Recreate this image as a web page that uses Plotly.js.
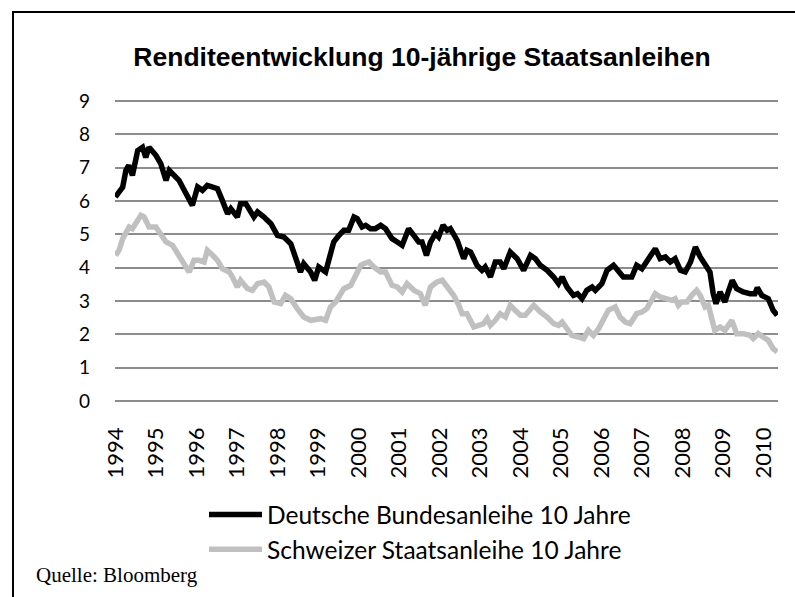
<!DOCTYPE html>
<html>
<head>
<meta charset="utf-8">
<script src="https://cdn.plot.ly/plotly-3.0.1.min.js"></script>
<style>
html,body{margin:0;padding:0;background:#fff;}
#chart{width:795px;height:597px;}
</style>
</head>
<body>
<div id="chart"></div>
<script>
var chartTitle = "Renditeentwicklung 10-jährige Staatsanleihen";
var sourceNote = "Quelle: Bloomberg";
var seriesNames = ["Deutsche Bundesanleihe 10 Jahre", "Schweizer Staatsanleihe 10 Jahre"];

var tickYears = [1994,1995,1996,1997,1998,1999,2000,2001,2002,2003,2004,2005,2006,2007,2008,2009,2010];
var tickLabels = ["1994","1995","1996","1997","1998","1999","2000","2001","2002","2003","2004","2005","2006","2007","2008","2009","2010"];
var yTicks = [0,1,2,3,4,5,6,7,8,9];

var deYears = [1994.00,1994.18,1994.26,1994.33,1994.42,1994.55,1994.67,1994.75,1994.83,1995.00,1995.12,1995.25,1995.33,1995.57,1995.70,1995.82,1995.90,1996.03,1996.15,1996.27,1996.40,1996.52,1996.64,1996.77,1996.85,1997.01,1997.09,1997.22,1997.42,1997.51,1997.67,1997.84,1998.00,1998.16,1998.33,1998.45,1998.57,1998.65,1998.82,1998.92,1999.02,1999.19,1999.27,1999.39,1999.52,1999.64,1999.76,1999.89,1999.97,2000.09,2000.18,2000.30,2000.42,2000.55,2000.67,2000.83,2000.96,2001.08,2001.24,2001.37,2001.49,2001.57,2001.68,2001.78,2001.90,2001.98,2002.09,2002.19,2002.27,2002.44,2002.60,2002.68,2002.77,2002.93,2003.05,2003.13,2003.26,2003.38,2003.50,2003.59,2003.75,2003.92,2004.08,2004.25,2004.37,2004.49,2004.66,2004.82,2004.94,2005.03,2005.15,2005.31,2005.41,2005.52,2005.64,2005.77,2005.85,2006.01,2006.14,2006.30,2006.42,2006.54,2006.75,2006.87,2007.00,2007.12,2007.21,2007.33,2007.45,2007.58,2007.70,2007.82,2007.95,2008.07,2008.20,2008.32,2008.44,2008.60,2008.68,2008.76,2008.83,2008.93,2009.05,2009.13,2009.23,2009.34,2009.50,2009.67,2009.79,2009.85,2009.96,2010.12,2010.24,2010.34];
var deYield = [6.12,6.42,6.92,7.07,6.77,7.51,7.61,7.31,7.61,7.37,7.12,6.62,6.92,6.62,6.32,6.02,5.87,6.42,6.32,6.47,6.42,6.37,6.02,5.62,5.77,5.52,5.92,5.92,5.52,5.67,5.52,5.32,4.97,4.92,4.72,4.32,3.87,4.12,3.87,3.62,4.02,3.87,4.22,4.77,4.97,5.12,5.12,5.52,5.47,5.22,5.27,5.17,5.17,5.27,5.17,4.87,4.77,4.67,5.17,4.97,4.77,4.77,4.37,4.77,5.02,4.92,5.27,5.12,5.17,4.82,4.27,4.52,4.47,4.07,3.92,4.02,3.72,4.17,4.17,3.97,4.47,4.27,3.92,4.37,4.27,4.07,3.92,3.72,3.52,3.72,3.42,3.17,3.22,3.07,3.32,3.42,3.32,3.52,3.92,4.07,3.87,3.72,3.72,4.07,3.97,4.17,4.32,4.57,4.27,4.32,4.17,4.27,3.92,3.87,4.17,4.62,4.32,4.02,3.87,3.22,2.92,3.27,2.97,3.27,3.62,3.37,3.27,3.22,3.22,3.40,3.17,3.07,2.72,2.57];

var chYears = [1994.00,1994.09,1994.18,1994.26,1994.34,1994.42,1994.51,1994.63,1994.71,1994.83,1995.00,1995.12,1995.25,1995.41,1995.57,1995.70,1995.82,1995.94,1996.07,1996.19,1996.27,1996.40,1996.52,1996.64,1996.81,1996.89,1997.01,1997.09,1997.26,1997.38,1997.51,1997.67,1997.79,1997.92,1998.08,1998.20,1998.33,1998.49,1998.65,1998.82,1999.07,1999.19,1999.31,1999.44,1999.64,1999.81,1999.93,2000.06,2000.13,2000.26,2000.38,2000.55,2000.67,2000.83,2000.96,2001.08,2001.20,2001.37,2001.53,2001.65,2001.78,2001.94,2002.07,2002.19,2002.35,2002.48,2002.56,2002.68,2002.85,2002.97,2003.09,2003.18,2003.26,2003.38,2003.50,2003.63,2003.75,2003.87,2004.00,2004.12,2004.33,2004.49,2004.66,2004.82,2004.94,2005.03,2005.15,2005.27,2005.43,2005.56,2005.68,2005.80,2005.93,2006.05,2006.17,2006.34,2006.46,2006.59,2006.71,2006.87,2007.00,2007.12,2007.21,2007.33,2007.45,2007.61,2007.74,2007.82,2007.90,2007.98,2008.11,2008.23,2008.35,2008.44,2008.56,2008.64,2008.72,2008.80,2008.93,2009.05,2009.22,2009.34,2009.50,2009.67,2009.75,2009.87,2009.99,2010.12,2010.24,2010.34];
var chYield = [4.37,4.52,4.87,5.02,5.22,5.17,5.37,5.57,5.52,5.22,5.22,5.02,4.77,4.67,4.37,4.17,3.87,4.22,4.22,4.17,4.52,4.37,4.22,3.97,3.87,3.72,3.42,3.62,3.37,3.32,3.52,3.57,3.42,2.97,2.92,3.17,3.07,2.77,2.52,2.42,2.47,2.42,2.82,2.97,3.37,3.47,3.77,4.07,4.12,4.17,4.02,3.87,3.87,3.47,3.42,3.27,3.52,3.32,3.22,2.87,3.42,3.57,3.62,3.42,3.17,2.87,2.62,2.62,2.22,2.27,2.32,2.47,2.27,2.42,2.62,2.52,2.87,2.72,2.57,2.57,2.87,2.67,2.52,2.32,2.27,2.37,2.17,1.97,1.92,1.87,2.12,1.97,2.17,2.42,2.72,2.82,2.52,2.37,2.32,2.62,2.67,2.77,2.97,3.22,3.12,3.07,3.02,3.07,2.87,2.97,2.97,3.17,3.32,3.17,2.82,2.87,2.52,2.12,2.22,2.12,2.42,2.02,2.02,1.97,1.87,2.02,1.92,1.82,1.57,1.47];

var W = 795, H = 597;
var L = 115, R = 17, T = 99, B = 194;
var pw = W - L - R, ph = H - T - B;
function px2paperX(p){ return (p - L) / pw; }
function py2paperY(p){ return (H - B - p) / ph; }

var traces = [
  {x: deYears, y: deYield, name: seriesNames[0], type: 'scatter', mode: 'lines',
   line: {color: '#000000', width: 5.5, shape: 'linear'}},
  {x: chYears, y: chYield, name: seriesNames[1], type: 'scatter', mode: 'lines',
   line: {color: '#c0c0c0', width: 5.5, shape: 'linear'}}
];

var layout = {
  width: W, height: H,
  margin: {l: L, r: R, t: T, b: B, pad: 0, autoexpand: false},
  paper_bgcolor: '#ffffff', plot_bgcolor: '#ffffff',
  title: {text: '<b>' + chartTitle + '</b>', xref: 'container', yref: 'container',
          x: 422 / W, y: 1 - 57 / H, xanchor: 'center', yanchor: 'middle',
          font: {family: 'Liberation Sans, Arial, sans-serif', size: 26.5, color: '#000'}},
  xaxis: {range: [1993.99, 2010.36], tickmode: 'array', tickvals: tickYears, ticktext: tickLabels,
          tickangle: -90, showgrid: false, zeroline: false, showline: false, ticks: '',
          ticklabelstandoff: 19, automargin: false,
          tickfont: {family: 'Lato, sans-serif', size: 22, color: '#000'}},
  yaxis: {range: [-0.06, 9.06], tickmode: 'array', tickvals: yTicks,
          showgrid: true, gridcolor: '#8c8c8c', gridwidth: 2, zeroline: false, showline: false,
          ticks: '', ticklabelstandoff: 24, automargin: false,
          tickfont: {family: 'Lato, sans-serif', size: 19, color: '#000'}},
  showlegend: true,
  legend: {xref: 'container', yref: 'container', x: 204 / W, y: 1 - 492 / H,
           xanchor: 'left', yanchor: 'top', bgcolor: 'rgba(0,0,0,0)',
           font: {family: 'Lato, sans-serif', size: 24.5, color: '#000'},
           itemwidth: 53, tracegroupgap: 0},
  annotations: [
    {text: sourceNote, xref: 'paper', yref: 'paper', x: px2paperX(34), y: py2paperY(575),
     xanchor: 'left', yanchor: 'middle', showarrow: false,
     font: {family: 'Liberation Serif, Times New Roman, serif', size: 21, color: '#000'}}
  ],
  shapes: [
    {type: 'rect', xref: 'paper', yref: 'paper', x0: px2paperX(13), x1: px2paperX(805),
     y0: py2paperY(610), y1: py2paperY(12), line: {color: '#000', width: 2}, fillcolor: 'rgba(0,0,0,0)', layer: 'below'}
  ]
};

Plotly.newPlot('chart', traces, layout, {staticPlot: true, displayModeBar: false});
</script>
</body>
</html>
